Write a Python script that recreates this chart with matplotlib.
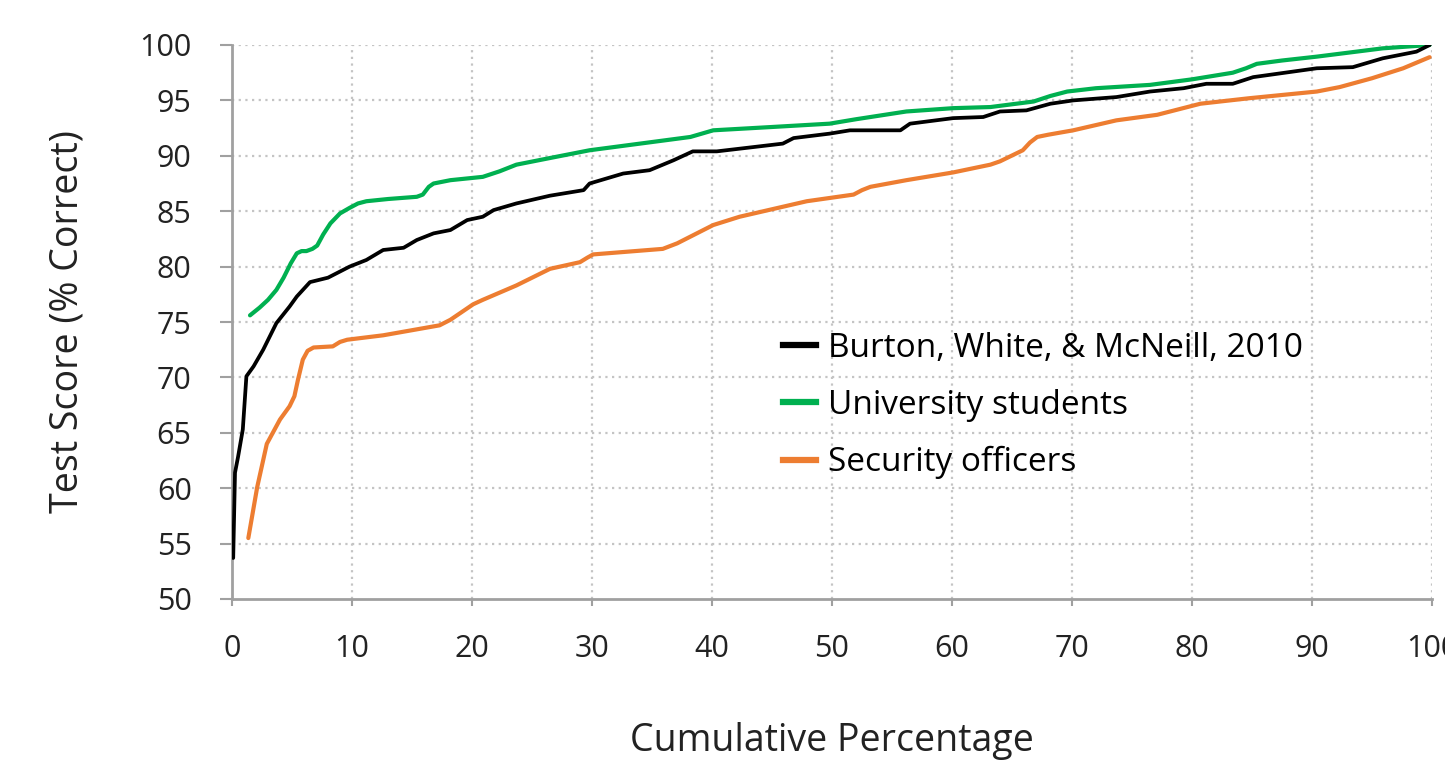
import matplotlib
matplotlib.use("Agg")
import matplotlib.pyplot as plt
from matplotlib.lines import Line2D

# Cumulative percentage of test takers vs. test score (% correct)
burton_x = [0.1, 0.25, 0.5, 0.9, 1.2, 1.8, 2.6, 3.7, 4.8, 5.4, 6.5, 8.0, 9.8, 11.2, 12.6,
            14.3, 15.4, 16.8, 18.2, 19.6, 20.9, 21.8, 23.7, 26.5, 29.3, 29.8, 32.6, 34.8,
            36.8, 38.4, 40.4, 45.9, 46.8, 49.8, 51.5, 55.7, 56.5, 60.1, 62.6, 64.0, 66.2,
            68.2, 70.1, 73.7, 76.5, 79.3, 81.2, 83.4, 85.1, 90.4, 93.4, 95.9, 98.7, 99.8]
burton_y = [53.7, 61.4, 62.8, 65.3, 70.1, 71.0, 72.5, 74.9, 76.4, 77.3, 78.6, 79.0, 80.0, 80.6, 81.5,
            81.7, 82.4, 83.0, 83.3, 84.2, 84.5, 85.1, 85.7, 86.4, 86.9, 87.5, 88.4, 88.7,
            89.6, 90.4, 90.4, 91.1, 91.6, 92.0, 92.3, 92.3, 92.9, 93.4, 93.5, 94.0, 94.1,
            94.7, 95.0, 95.3, 95.8, 96.1, 96.5, 96.5, 97.1, 97.9, 98.0, 98.8, 99.4, 100.0]

students_x = [1.5, 2.3, 3.0, 3.7, 4.3, 4.9, 5.4, 5.8, 6.2, 6.7, 7.1, 7.6, 8.2, 9.0, 9.8, 10.5,
              11.2, 13.0, 15.4, 15.9, 16.4, 16.8, 18.2, 20.9, 22.3, 23.7, 26.5, 29.8, 34.0,
              38.2, 40.1, 45.0, 49.8, 52.0, 56.2, 60.1, 63.2, 66.8, 68.2, 69.6, 72.0, 76.5,
              80.0, 83.4, 84.5, 85.4, 87.5, 90.4, 95.9, 99.8]
students_y = [75.6, 76.3, 77.0, 77.9, 79.0, 80.3, 81.2, 81.4, 81.4, 81.6, 81.9, 82.9, 83.9, 84.8,
              85.3, 85.7, 85.9, 86.1, 86.3, 86.5, 87.2, 87.5, 87.8, 88.1, 88.6, 89.2, 89.8,
              90.5, 91.1, 91.7, 92.3, 92.6, 92.9, 93.3, 94.0, 94.3, 94.4, 94.9, 95.4, 95.8,
              96.1, 96.4, 96.9, 97.5, 97.9, 98.3, 98.6, 98.95, 99.7, 100.0]

officers_x = [1.36, 2.1, 2.9, 4.0, 4.8, 5.2, 5.5, 5.9, 6.3, 6.8, 8.4, 9.0, 9.6, 12.6, 17.3,
              18.2, 20.1, 20.9, 23.7, 26.5, 29.0, 29.6, 30.1, 35.9, 37.1, 40.1, 42.3, 47.9,
              51.8, 52.5, 53.2, 56.2, 60.1, 63.2, 64.0, 65.9, 66.5, 67.1, 68.0, 70.1, 73.7,
              77.1, 80.7, 84.8, 90.4, 92.3, 95.0, 97.6, 99.8]
officers_y = [55.5, 60.1, 64.0, 66.2, 67.4, 68.3, 69.8, 71.6, 72.4, 72.7, 72.8, 73.2, 73.4, 73.8,
              74.7, 75.2, 76.6, 77.0, 78.3, 79.8, 80.4, 80.8, 81.1, 81.6, 82.1, 83.75, 84.5,
              85.9, 86.5, 86.9, 87.2, 87.8, 88.5, 89.2, 89.5, 90.5, 91.2, 91.7, 91.9, 92.3,
              93.2, 93.7, 94.7, 95.2, 95.8, 96.2, 97.0, 97.9, 98.9]

series_labels = ["Burton, White, & McNeill, 2010", "University students", "Security officers"]
series_colors = ["#000000", "#00B050", "#ED7D31"]

x_ticks = list(range(0, 101, 10))
y_ticks = list(range(50, 101, 5))

W, H = 1445, 764
fig = plt.figure(figsize=(W / 100, H / 100), dpi=100)
ax = fig.add_axes([232 / W, 1 - 599 / H, 1200 / W, 554 / H])

ax.plot(officers_x, officers_y, color=series_colors[2], lw=3.0, solid_capstyle="round",
        solid_joinstyle="round", zorder=3)
ax.plot(students_x, students_y, color=series_colors[1], lw=3.0, solid_capstyle="round",
        solid_joinstyle="round", zorder=4)
ax.plot(burton_x, burton_y, color=series_colors[0], lw=2.7, solid_capstyle="round",
        solid_joinstyle="round", zorder=5)

ax.set_xlim(0, 100)
ax.set_ylim(50, 100)
ax.set_xticks(x_ticks)
ax.set_yticks(y_ticks)

tick_font = {"family": "Open Sans", "size": 22, "color": "#222222"}
ax.set_xticklabels([str(v) for v in x_ticks], **tick_font)
ax.set_yticklabels([str(v) for v in y_ticks], **tick_font)
ax.tick_params(axis="y", length=9, width=1.5, color="#a0a0a0", pad=20)
ax.tick_params(axis="x", length=5, width=1.5, color="#a0a0a0", pad=20)

for s in ["top", "right"]:
    ax.spines[s].set_visible(False)
for s in ["left", "bottom"]:
    ax.spines[s].set_color("#a0a0a0")
    ax.spines[s].set_linewidth(2)

grid_kw = dict(color="#c4c4c4", lw=1.6, ls=(0, (1, 2)), zorder=1)
for v in y_ticks[1:]:
    ax.axhline(v, **grid_kw)
for v in x_ticks[1:]:
    ax.axvline(v, **grid_kw)

ax.set_xlabel("Cumulative Percentage", family="Open Sans", fontsize=27, color="#222222", labelpad=42)
ax.set_ylabel("Test Score (% Correct)", family="Open Sans", fontsize=27, color="#222222", labelpad=38)

handles = [Line2D([0], [0], color=c, lw=4.5) for c in series_colors]
leg = ax.legend(handles, series_labels, loc="upper left", bbox_to_anchor=(0.459, 0.482),
                frameon=False, prop={"family": "Open Sans", "size": 24},
                handlelength=1.0, handletextpad=0.35, labelspacing=0.72,
                borderaxespad=0, borderpad=0)

fig.savefig("out.png", dpi=100)
